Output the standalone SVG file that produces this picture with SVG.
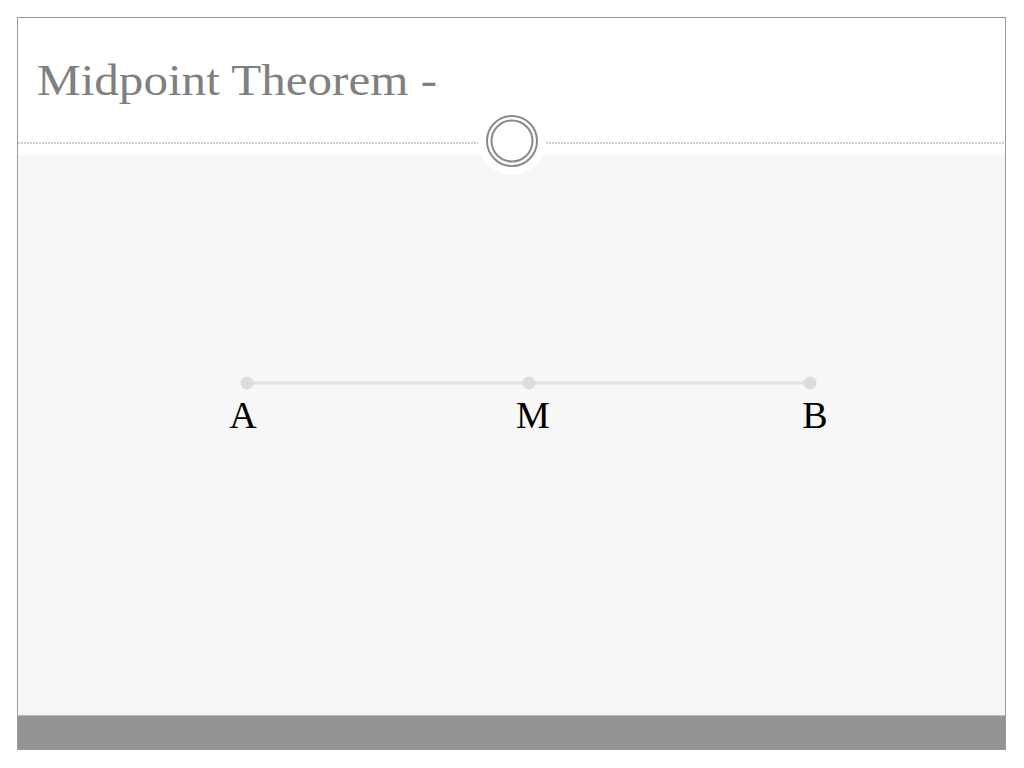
<svg xmlns="http://www.w3.org/2000/svg" width="1024" height="768" viewBox="0 0 1024 768">
<style>
.pt{fill:#dcdcdc}
.lbl{font-family:"Liberation Serif","DejaVu Serif",serif;font-size:38px;fill:#000;text-anchor:middle}
</style>
<rect x="0" y="0" width="1024" height="768" fill="#fff"/>
<g id="frame">
<rect x="17" y="155" width="989" height="561" fill="#f7f7f7"/>
<rect x="17" y="715" width="989" height="35" fill="#949494"/>
<line x1="17" y1="715.5" x2="1006" y2="715.5" stroke="#bdbdbd" stroke-width="1"/>
<rect x="17.5" y="17.5" width="988" height="732" fill="none" stroke="#9a9a9a" stroke-width="1"/>
<line x1="18" y1="143" x2="1006" y2="143" stroke="#a0a0a0" stroke-width="1" stroke-dasharray="2,1"/>
</g>
<g id="badge">
<circle cx="512" cy="141" r="34" fill="#fff"/>
<circle cx="512" cy="141" r="25" fill="none" stroke="#8a8a8a" stroke-width="2"/>
<circle cx="512" cy="141" r="20.5" fill="none" stroke="#8a8a8a" stroke-width="2"/>
</g>
<text id="title" x="37" y="95" font-family="Liberation Serif, DejaVu Serif, serif" font-size="45" fill="#808080" textLength="400" lengthAdjust="spacingAndGlyphs">Midpoint Theorem -</text>
<g id="connectors">
<line x1="247" y1="383" x2="810" y2="383" stroke="#e0e0e0" stroke-width="3"/>
</g>
<g id="A"><circle class="pt" cx="247" cy="383" r="6.5"/><text class="lbl" x="243" y="428">A</text></g>
<g id="M"><circle class="pt" cx="529" cy="383" r="6.5"/><text class="lbl" x="533" y="428">M</text></g>
<g id="B"><circle class="pt" cx="810" cy="383" r="6.5"/><text class="lbl" x="815" y="428">B</text></g>
</svg>
